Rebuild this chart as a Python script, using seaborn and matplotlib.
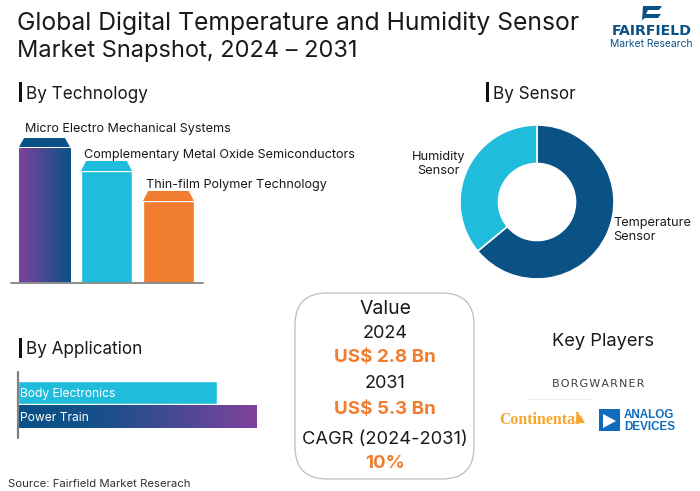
import numpy as np
import pandas as pd
import matplotlib
matplotlib.use("Agg")
import matplotlib.pyplot as plt
from matplotlib.colors import LinearSegmentedColormap
from matplotlib.patches import FancyBboxPatch, Polygon, Rectangle
import seaborn as sns

tech_labels = ["Micro Electro Mechanical Systems", "Complementary Metal Oxide Semiconductors", "Thin-film Polymer Technology"]
tech_values = [145, 122, 92]
sensor_labels = ["Temperature\nSensor", "Humidity\nSensor"]
sensor_values = [64, 36]
app_labels = ["Body Electronics", "Power Train"]
app_values = [199, 239]
box_lines = ["Value", "2024", "US$ 2.8 Bn", "2031", "US$ 5.3 Bn", "CAGR (2024-2031)", "10%"]

W, H = 700, 491
BLUE, CYAN, ORANGE, PURPLE = "#0A5186", "#1FBCDB", "#F07D30", "#7F429C"
FONT = "Inter"

sns.set_theme(style="white")
plt.rcParams["font.family"] = [FONT, "DejaVu Sans"]
fig = plt.figure(figsize=(W / 100, H / 100), dpi=100, facecolor="white")

def px_axes(x0, y0, x1, y1, **kw):
    return fig.add_axes([x0 / W, 1 - y1 / H, (x1 - x0) / W, (y1 - y0) / H], **kw)

bg = px_axes(0, 0, W, H)
bg.set_xlim(0, W); bg.set_ylim(H, 0); bg.axis("off")
TXT = "#1a1a1a"

def heading(x, y, s, size=12.3):
    bg.add_patch(Rectangle((x - 7, y - 10), 3, 20, color="#111111", lw=0))
    bg.text(x, y + 2, s, fontsize=size, va="center", ha="left", color=TXT)

bg.text(17, 23, "Global Digital Temperature and Humidity Sensor", fontsize=17.8, va="center", color=TXT)
bg.text(17, 51, "Market Snapshot, 2024 – 2031", fontsize=17.0, va="center", color=TXT)
heading(26, 92, "By Technology")
heading(493, 92, "By Sensor")
heading(26, 348, "By Application")
bg.text(8, 484, "Source: Fairfield Market Reserach", fontsize=8.2, va="center", color="#333333")

# FAIRFIELD logo
bg.add_patch(Polygon([(643, 6), (662, 6), (659, 10), (648, 10), (646, 14), (661, 14), (658, 18), (645, 18), (641, 21), (642, 21)], color=BLUE, lw=0))
bg.text(651.5, 31, "FAIRFIELD", fontsize=10.2, family="DejaVu Sans", fontweight="bold", ha="center", va="center", color=BLUE)
bg.text(651, 44, "Market Research", fontsize=7.4, ha="center", va="center", color=BLUE)

# technology bars
XLIM_T, YLIM_T = (-0.54, 2.557), (0, 183)
ax = px_axes(11, 100, 203, 283)
df = pd.DataFrame({"label": tech_labels, "value": tech_values})
sns.barplot(data=df, x="label", y="value", hue="label", palette=[BLUE, CYAN, ORANGE], legend=False,
            width=0.823, ax=ax, saturation=1)
ax.axis("off")
ax.plot([0, 1], [0, 0], transform=ax.transAxes, color="#8c8c8c", lw=1.4, clip_on=False, zorder=5)
grad1 = LinearSegmentedColormap.from_list("g1", [PURPLE, BLUE])
label_shift = [0.10, 0.05, 0.05]
label_gap = [9, 6, 6]
for i, (bar, col) in enumerate(zip(ax.patches, [BLUE, CYAN, ORANGE])):
    x0, w, h = bar.get_x(), bar.get_width(), bar.get_height()
    body = h - 10
    bar.set_height(body)
    if i == 0:
        ax.imshow(np.linspace(0, 1, 128)[None, :], extent=[x0, x0 + w, 0, body], cmap=grad1, aspect="auto", zorder=3)
    inset = w * 0.1
    base = body + 1 if i == 0 else body
    ax.add_patch(Polygon([(x0, base), (x0 + inset, h), (x0 + w - inset, h), (x0 + w, base)], color=col, lw=0, zorder=3))
    ax.text(x0 + label_shift[i], h + label_gap[i], tech_labels[i], fontsize=9.1, ha="left", va="center", color=TXT, clip_on=False)
ax.set_xlim(*XLIM_T); ax.set_ylim(*YLIM_T)

# donut
ax2 = px_axes(460, 125, 614, 279)
ax2.pie(sensor_values, colors=[BLUE, CYAN], startangle=90, counterclock=False, radius=1.0,
        wedgeprops=dict(width=0.5, edgecolor="white", linewidth=1.2))
ax2.set_xlim(-1, 1); ax2.set_ylim(-1, 1)
bg.text(613, 230, sensor_labels[0], fontsize=9.2, ha="left", va="center", color=TXT, linespacing=1.15, zorder=10)
bg.text(465, 164, sensor_labels[1], fontsize=9.2, ha="right", va="center", color=TXT, linespacing=1.15, zorder=10,
        multialignment="center")

# application bars
XLIM_A, YLIM_A = (0, 240), (1.857, -0.837)
ax3 = px_axes(18, 372, 258, 438)
df3 = pd.DataFrame({"label": app_labels, "value": app_values})
sns.barplot(data=df3, y="label", x="value", hue="label", palette=[CYAN, BLUE], legend=False, orient="h",
            width=0.93, ax=ax3, saturation=1)
ax3.axis("off")
ax3.plot([0, 0], [0, 1], transform=ax3.transAxes, color="#808080", lw=1.6, clip_on=False, zorder=5)
grad2 = LinearSegmentedColormap.from_list("g2", [(0, BLUE), (0.35, "#16508A"), (1, PURPLE)])
bar = ax3.patches[1]
ax3.imshow(np.linspace(0, 1, 256)[None, :], extent=[0, bar.get_width(), bar.get_y() + bar.get_height(), bar.get_y()],
           cmap=grad2, aspect="auto", zorder=3)
ax3.set_xlim(*XLIM_A); ax3.set_ylim(*YLIM_A)
for p, lab in zip(ax3.patches, app_labels):
    ax3.text(2, p.get_y() + p.get_height() / 2 + 0.06, lab, color="white", fontsize=8.7, va="center", ha="left", zorder=6)

# center box
bg.add_patch(FancyBboxPatch((295 + 32, 293 + 32), 179 - 64, 186 - 64, boxstyle="round,pad=32,rounding_size=32",
                            fc="white", ec="#bdbdbd", lw=0.9))
ys = [309, 333, 358, 383, 409, 440, 464]
sizes = [14, 13, 13.5, 13, 13.5, 13.2, 13.5]
for s, y, fs in zip(box_lines, ys, sizes):
    hl = s.startswith("US$") or s == "10%"
    bg.text(385, y, s, fontsize=fs, ha="center", va="center",
            color=ORANGE if hl else TXT, fontweight="bold" if hl else "normal")

# key players
bg.text(603, 341, "Key Players", fontsize=13.2, ha="center", va="center", color=TXT)
bg.text(598, 384, "\u200a".join("BORGWARNER"), fontsize=8.0, family="DejaVu Sans", ha="center", va="center", color="#3b3f45")
bg.plot([526, 592], [399, 399], color="#e4e4e4", lw=0.5)
bg.text(499, 420, "Continental", fontsize=11.4, family="Liberation Serif", fontweight="bold", ha="left", va="center", color="#F6A72B")
bg.add_patch(Polygon([(575, 423), (578, 415), (576, 412), (581, 416), (585, 423)], color="#F6A72B", lw=0))
bg.add_patch(Rectangle((599, 409), 21, 22, color="#0F6CBD", lw=0))
bg.add_patch(Polygon([(603, 414), (616, 421), (603, 428)], color="white", lw=0))
bg.text(624, 421, "ANALOG\nDEVICES", fontsize=8.4, family="Liberation Sans", fontweight="bold", ha="left", va="center", color="#0F6CBD", linespacing=1.0)

fig.savefig("out.png", dpi=100, facecolor="white")
